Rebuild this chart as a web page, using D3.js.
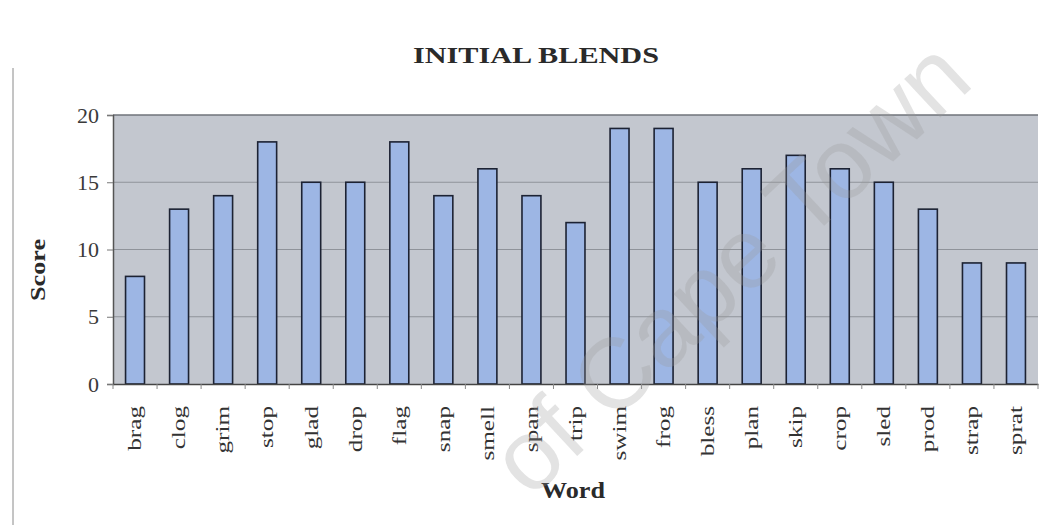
<!DOCTYPE html>
<html>
<head>
<meta charset="utf-8">
<script src="https://cdn.jsdelivr.net/npm/d3@7"></script>
<style>
  html, body { margin: 0; padding: 0; background: #fff; }
  svg { display: block; }
</style>
</head>
<body>
<svg id="chart" width="1046" height="525"></svg>
<script>
// Scores for the initial-blend words
const words = ["brag","clog","grim","stop","glad","drop","flag","snap","smell","span","trip",
               "swim","frog","bless","plan","skip","crop","sled","prod","strap","sprat"];
const scores = [8, 13, 14, 18, 15, 15, 18, 14, 16, 14, 12, 19, 19, 15, 16, 17, 16, 15, 13, 9, 9];
const yTicks = [0, 5, 10, 15, 20];

const W = 1046, H = 525;
const m = { left: 113, right: 1038, top: 115, bottom: 384 };
const serif = "'Liberation Serif', 'Times New Roman', serif";

const svg = d3.select("#chart");

const x = d3.scaleBand().domain(words).range([m.left, m.right]).paddingInner(0.57).paddingOuter(0.285);
const y = d3.scaleLinear().domain([0, 20]).range([m.bottom, m.top]);

// page frame line at the left
svg.append("line").attr("x1", 13).attr("x2", 13).attr("y1", 68).attr("y2", H)
  .attr("stroke", "#8a8a8a").attr("stroke-width", 1);

// plot area
svg.append("rect").attr("x", m.left).attr("y", m.top)
  .attr("width", m.right - m.left).attr("height", m.bottom - m.top)
  .attr("fill", "#c3c7cf");

// horizontal gridlines
svg.append("g").selectAll("line").data(yTicks.filter(d => d > 0 && d < 20)).join("line")
  .attr("x1", m.left).attr("x2", m.right)
  .attr("y1", d => y(d)).attr("y2", d => y(d))
  .attr("stroke", "#8f939a").attr("stroke-width", 1.2);

// top border of plot
svg.append("line").attr("x1", m.left).attr("x2", m.right).attr("y1", m.top).attr("y2", m.top)
  .attr("stroke", "#6f737a").attr("stroke-width", 1.5);

// bars
svg.append("g").selectAll("rect").data(words).join("rect")
  .attr("x", d => x(d))
  .attr("y", (d, i) => y(scores[i]))
  .attr("width", x.bandwidth())
  .attr("height", (d, i) => y(0) - y(scores[i]))
  .attr("fill", "#9db6e4")
  .attr("stroke", "#1c2233").attr("stroke-width", 1.6);

// y axis
const yAxis = svg.append("g").attr("transform", `translate(${m.left},0)`)
  .call(d3.axisLeft(y).tickValues(yTicks).tickSize(6).tickPadding(8));
yAxis.select(".domain").attr("stroke", "#555").attr("stroke-width", 1.5);
yAxis.selectAll(".tick line").attr("stroke", "#777");
yAxis.selectAll("text").attr("font-family", serif).attr("font-size", 22).attr("fill", "#3a3a3a");

// x axis: word labels read bottom-to-top, slightly elongated
const labelStretch = 1.4;
const xAxis = svg.append("g").attr("transform", `translate(0,${m.bottom})`)
  .call(d3.axisBottom(x).tickSize(0).tickPadding(0));
xAxis.select(".domain").attr("stroke", "#444").attr("stroke-width", 1.5);
xAxis.selectAll("text")
  .attr("font-family", serif).attr("font-size", 18).attr("fill", "#333")
  .attr("transform", `rotate(-90) scale(${labelStretch},1)`)
  .attr("text-anchor", "end")
  .attr("x", -22 / labelStretch).attr("y", 0).attr("dy", "0.35em");
// category separators on the baseline
svg.append("g").selectAll("line").data(d3.range(words.length + 1)).join("line")
  .attr("x1", i => m.left + i * x.step()).attr("x2", i => m.left + i * x.step())
  .attr("y1", m.bottom).attr("y2", m.bottom + 5)
  .attr("stroke", "#888").attr("stroke-width", 1);

// titles
svg.append("text").attr("x", 536).attr("y", 63).attr("text-anchor", "middle")
  .attr("font-family", serif).attr("font-weight", "bold").attr("font-size", 23)
  .attr("textLength", 246).attr("lengthAdjust", "spacingAndGlyphs")
  .attr("fill", "#2a2a2a").text("INITIAL BLENDS");
svg.append("text").attr("transform", "translate(45,270) rotate(-90)").attr("text-anchor", "middle")
  .attr("font-family", serif).attr("font-weight", "bold").attr("font-size", 22)
  .attr("textLength", 62).attr("lengthAdjust", "spacingAndGlyphs")
  .attr("fill", "#2a2a2a").text("Score");
svg.append("text").attr("x", 573).attr("y", 498).attr("text-anchor", "middle")
  .attr("font-family", serif).attr("font-weight", "bold").attr("font-size", 23)
  .attr("textLength", 64).attr("lengthAdjust", "spacingAndGlyphs")
  .attr("fill", "#2a2a2a").text("Word");

// diagonal watermark
svg.append("text").attr("transform", "translate(530,500) rotate(-43)")
  .attr("font-family", "'Liberation Sans', Arial, sans-serif").attr("font-size", 100)
  .attr("fill", "#9a9a9a").attr("fill-opacity", 0.28)
  .text("of Cape Town");
</script>
</body>
</html>
